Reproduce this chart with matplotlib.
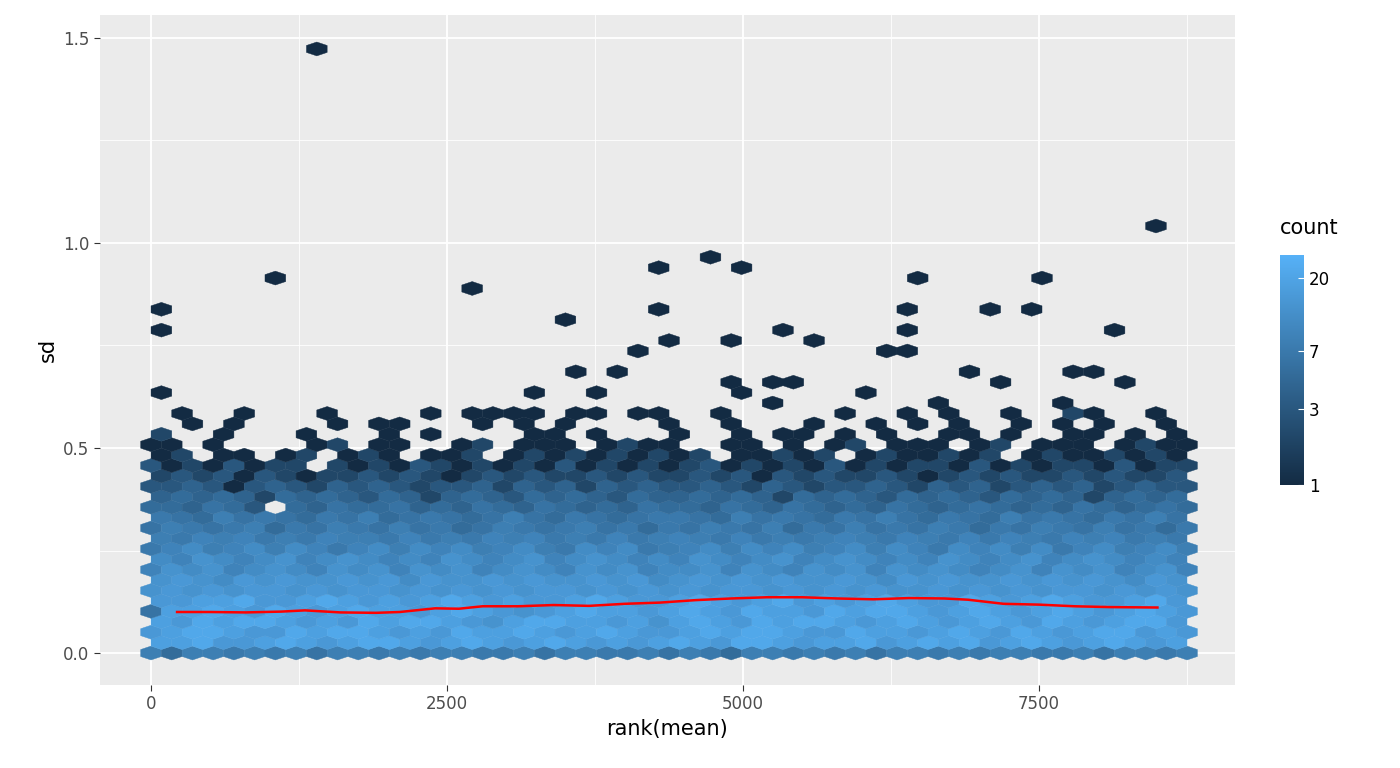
import numpy as np
import matplotlib
matplotlib.use("Agg")
import matplotlib.pyplot as plt
from matplotlib.collections import PolyCollection
from matplotlib.colors import LinearSegmentedColormap, LogNorm

# hex grid counts: row j at y = j*dy; even rows x = k*dx, odd rows x = (k+0.5)*dx
CODE = {'0': 0, '1': 1, '2': 2, '3': 3, '4': 4, '5': 5, '6': 6, '7': 7, '8': 8, '9': 9,
        'a': 11, 'b': 13, 'c': 15, 'd': 18, 'e': 22, 'f': 26}
rows = [
    "8588787868" "8787887786" "8877868758" "8787868878" "7887786887" "8",
    "ddeccdedcd" "eedcdedcde" "dcdcdedcee" "dcddecdede" "cdedcdedcd",
    "cdeedccede" "edcdcedded" "cdedccdede" "edcceddcde" "dcedcdeecd" "c",
    "dcedeedcdc" "edeedcbdee" "ddcdbdedce" "deedcdedcd" "edcedcdeec",
    "6ddedcedcd" "eddcdedcbc" "deddcdedce" "ddcedeedcd" "edcdedcded" "c",
    "ccddeccded" "cdcdedcdcc" "dedccdedcd" "ecdcdedcce" "dcdedccdec",
    "bcbcbccbcb" "ccbcbcbcbc" "cbcbcbcbcc" "bcbcbcbbcb" "cbcbccbcbc" "b",
    "bcbacbcbbc" "bcacbbcbcb" "bcbcabcbcb" "cbbcbacbcb" "bcbcbcbacb",
    "9bab9aba9b" "ab9bab9aba" "9bab9aab9b" "a9bab9baba" "9ab9bab9ab" "9",
    "a9ba9ab9ab" "a9a9ba9ab9" "aba9a9ba9a" "b9aba9a9ba" "9ab9aba9a9",
    "79a89a8a97" "9a8a9a89a8" "7a9a789a8a" "9a89a8a97a" "9a8a79a89a" "8",
    "8798978798" "8797879897" "8797898797" "8789879879" "7987989787",
    "6876785768" "7686756876" "7867576876" "8576867687" "5768768675" "7",
    "7658676576" "8567656865" "7656776586" "7657686576" "5867657686",
    "5546530546" "5564546546" "5454655465" "4654546545" "6545465456" "5",
    "4545425454" "3542454354" "5435445454" "2545435454" "3545424545",
    "3343134324" "3432334243" "4243433432" "4323343243" "4234342343" "3",
    "2323132122" "3232123232" "2323223231" "3232232123" "2322323223",
    "3121312202" "1213212121" "3121212312" "1213121221" "3121221312" "2",
    "1201101201" "2101120121" "2121212011" "2120121121" "2012112121",
    "1101000012" "0110012011" "1012110011" "0101201110" "1201110121" "1",
    "1001000100" "0101000011" "0100010010" "1101010011" "0100110101",
    "0010100001" "0010001010" "1000010010" "0010010101" "0010101001" "0",
    "0100000010" "0000010100" "1001000100" "0001001010" "0100100010",
]
outlier_x = [100, 100, 100, 100, 1050, 1400, 750, 2700, 3500, 4250, 4250, 4700, 4950, 4100, 4350,
             5300, 5600, 4850, 3850, 3600, 3250, 3750, 4850, 4950, 5250, 5450, 6450, 6350, 6350,
             6350, 6150, 6100, 7050, 7500, 7450, 7250, 6900, 7750, 7950, 8100, 8200, 8450, 1850,
             2400, 2850, 3250, 3800, 4200, 5200, 6600, 7650, 7800, 7950]
outlier_y = [0.84, 0.79, 0.64, 0.54, 0.92, 1.48, 0.59, 0.89, 0.82, 0.94, 0.84, 0.97, 0.94, 0.74, 0.77,
             0.79, 0.77, 0.77, 0.69, 0.69, 0.64, 0.64, 0.66, 0.64, 0.66, 0.66, 0.92, 0.84, 0.79,
             0.74, 0.74, 0.64, 0.84, 0.92, 0.84, 0.66, 0.69, 0.69, 0.69, 0.79, 0.66, 1.05, 0.56,
             0.59, 0.59, 0.59, 0.59, 0.59, 0.61, 0.61, 0.61, 0.59, 0.59]
trend_x = [220, 500, 800, 1100, 1300, 1600, 1900, 2100, 2400, 2600, 2800, 3100, 3400, 3700, 4000,
           4300, 4600, 4900, 5200, 5500, 5800, 6100, 6400, 6700, 6900, 7200, 7500, 7800, 8100, 8500]
trend_y = [0.100, 0.100, 0.099, 0.101, 0.104, 0.099, 0.098, 0.100, 0.109, 0.108, 0.114, 0.114,
           0.117, 0.115, 0.120, 0.123, 0.129, 0.133, 0.136, 0.136, 0.133, 0.131, 0.134, 0.133,
           0.130, 0.120, 0.118, 0.114, 0.112, 0.111]

dx = 175.0
dy = 0.0254
r = dy / 1.5

cells = {}
for j, s in enumerate(rows):
    for k, ch in enumerate(s):
        c = CODE[ch]
        if c > 0:
            cells[(j, k)] = c
for ox, oy in zip(outlier_x, outlier_y):
    j = int(round(oy / dy))
    off = 0.5 if j % 2 else 0.0
    k = int(round(ox / dx - off))
    cells[(j, k)] = cells.get((j, k), 0) + 1

polys, vals = [], []
ang = np.deg2rad(np.arange(6) * 60 + 30)
for (j, k), c in cells.items():
    cx = (k + (0.5 if j % 2 else 0.0)) * dx
    cy = j * dy
    polys.append(np.column_stack([cx + (dx / 2) * np.cos(ang) / np.cos(np.pi / 6),
                                  cy + r * np.sin(ang)]))
    vals.append(c)

cmap = LinearSegmentedColormap.from_list("gg", ["#132B43", "#56B1F7"])
norm = LogNorm(vmin=1, vmax=28)

fig = plt.figure(figsize=(14, 7.68), dpi=100)
ax = fig.add_axes([100 / 1400, 1 - 685 / 768, 1135 / 1400, 670 / 768])
ax.set_facecolor("#EBEBEB")
pc = PolyCollection(polys, array=np.array(vals), cmap=cmap, norm=norm, linewidths=0.3,
                    edgecolors="face")
ax.add_collection(pc)
ax.plot(trend_x, trend_y, color="red", lw=1.8, zorder=3)

ax.set_xlim(-431, 9155)
ax.set_ylim(-0.078, 1.556)
ax.set_xticks([0, 2500, 5000, 7500])
ax.set_xticklabels(["0", "2500", "5000", "7500"])
ax.set_yticks([0, 0.5, 1.0, 1.5])
ax.set_yticklabels(["0.0", "0.5", "1.0", "1.5"])
ax.set_xticks([1250, 3750, 6250, 8750], minor=True)
ax.set_yticks([0.25, 0.75, 1.25], minor=True)
ax.grid(which="major", color="white", lw=1.3)
ax.grid(which="minor", color="white", lw=0.6)
ax.set_axisbelow(True)
for s in ax.spines.values():
    s.set_visible(False)
ax.tick_params(which="major", length=4, color="#333333", labelsize=12, labelcolor="#4D4D4D")
ax.tick_params(which="minor", length=0)
ax.set_xlabel("rank(mean)", fontsize=15)
ax.set_ylabel("sd", fontsize=15)

cax = fig.add_axes([1280 / 1400, 1 - 485 / 768, 24 / 1400, 230 / 768])
cb = fig.colorbar(pc, cax=cax)
cb.set_ticks([1, 3, 7, 20])
cb.set_ticklabels(["1", "3", "7", "20"])
cb.ax.tick_params(labelsize=12, length=4, color="white", direction="in")
cb.outline.set_visible(False)
cb.ax.minorticks_off()
fig.text(1280 / 1400, 1 - 228 / 768, "count", fontsize=15, va="center")

fig.savefig("out.png", dpi=100)
